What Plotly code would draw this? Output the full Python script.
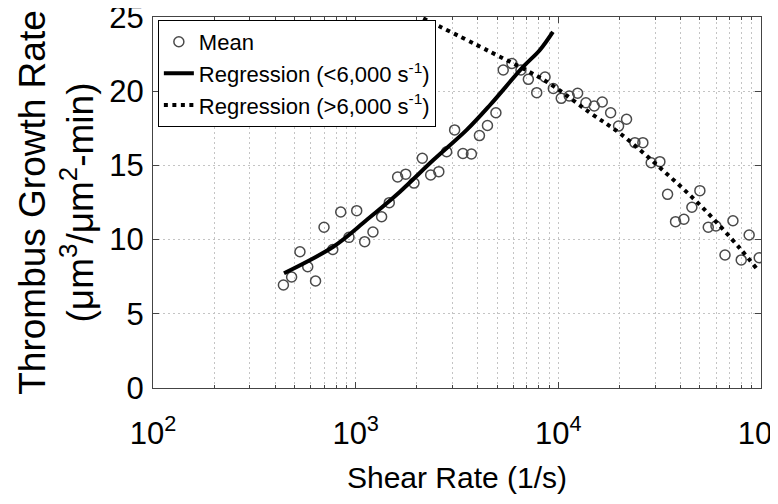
import plotly.graph_objects as go

# ---- data ----
shear_rate = [440, 483, 531, 580, 634, 698, 771, 844, 927, 1012,
              1108, 1217, 1343, 1465, 1611, 1766, 1940, 2132, 2345, 2572,
              2812, 3078, 3383, 3725, 4080, 4470, 4921, 5347, 5904, 6541,
              7112, 7824, 8597, 9446, 10336, 11316, 12450, 13681, 15035, 16469,
              18117, 19826, 21710, 23867, 26129, 28722, 31703, 34597, 37878, 41642,
              45600, 49937, 54918, 59939, 66435, 72698, 79882, 87426, 98000]
growth_rate = [6.94, 7.48, 9.18, 8.17, 7.21, 10.83, 9.33, 11.86, 10.15, 11.95,
               9.86, 10.51, 11.54, 12.49, 14.22, 14.41, 13.81, 15.48, 14.35, 14.58,
               15.92, 17.39, 15.80, 15.77, 17.01, 17.69, 18.55, 21.43, 21.87, 21.43,
               20.80, 19.90, 20.96, 20.18, 19.52, 19.68, 19.86, 19.22, 19.00, 19.27,
               18.55, 17.65, 18.11, 16.53, 16.53, 15.18, 15.25, 13.05, 11.21, 11.37,
               12.18, 13.30, 10.83, 10.92, 8.96, 11.27, 8.63, 10.31, 8.78]

reg_low_x = [443, 775, 1132, 1655, 2416, 3532, 4604, 6714, 8110, 9400]
reg_low_y = [7.73, 9.52, 11.32, 13.23, 15.36, 17.39, 19.07, 21.65, 22.78, 24.0]

reg_high_x = [2154, 4604, 8750, 14320, 20140, 32360, 50950, 78700, 95700]
reg_high_y = [24.91, 22.66, 20.64, 18.55, 17.16, 14.74, 12.22, 9.41, 8.0]

x_tick_vals = [100, 1000, 10000, 100000]
x_tick_text = ["10<sup>2</sup>", "10<sup>3</sup>", "10<sup>4</sup>", "10<sup>5</sup>"]
y_tick_vals = [0, 5, 10, 15, 20, 25]

FONT = "Liberation Sans, Arial, Helvetica, sans-serif"

minor_x = [m * 10 ** e for e in (2, 3, 4) for m in range(2, 10)]

fig = go.Figure()
fig.add_trace(go.Scatter(
    x=shear_rate, y=growth_rate, mode="markers", name="Mean",
    marker=dict(symbol="circle-open", size=10, color="#4a4a4a",
                line=dict(width=1.5, color="#4a4a4a")),
))
fig.add_trace(go.Scatter(
    x=reg_low_x, y=reg_low_y, mode="lines", name="Regression (<6,000 s<sup>-1</sup>)",
    line=dict(color="black", width=4, shape="spline"),
))
fig.add_trace(go.Scatter(
    x=reg_high_x, y=reg_high_y, mode="lines", name="Regression (>6,000 s<sup>-1</sup>)",
    line=dict(color="black", width=4, dash="4px,4.5px", shape="spline"),
))

grid = dict(showgrid=True, gridcolor="#c4c4c4", griddash="2px,3px", gridwidth=1)

fig.update_layout(
    width=770, height=496,
    margin=dict(l=145, r=17, t=9, b=116, autoexpand=False),
    paper_bgcolor="white", plot_bgcolor="white",
    font=dict(family=FONT, color="black"),
    showlegend=True,
    legend=dict(
        x=0.008, y=0.992, xanchor="left", yanchor="top",
        bgcolor="white", bordercolor="black", borderwidth=1,
        font=dict(family=FONT, size=22, color="black"),
        tracegroupgap=0, itemwidth=30,
    ),
    xaxis=dict(
        type="log", range=[2, 5],
        tickmode="array", tickvals=x_tick_vals, ticktext=x_tick_text,
        ticks="inside", ticklen=6, tickcolor="#444", tickwidth=1,
        showline=True, linecolor="#444", linewidth=1.2, mirror="ticks",
        tickfont=dict(family=FONT, size=31),
        ticklabelstandoff=18, ticklabeloverflow="allow",
        minor=dict(tickmode="array", tickvals=minor_x, ticks="inside", ticklen=3,
                   tickcolor="#444", **grid),
        title=dict(text="Shear Rate (1/s)", font=dict(family=FONT, size=30), standoff=16),
        zeroline=False, automargin=False, **grid,
    ),
    yaxis=dict(
        range=[0, 25], tickmode="array", tickvals=y_tick_vals,
        ticks="inside", ticklen=6, tickcolor="#444", tickwidth=1,
        showline=True, linecolor="#444", linewidth=1.2, mirror="ticks",
        tickfont=dict(family=FONT, size=31),
        ticklabelstandoff=2, ticklabeloverflow="allow",
        title=dict(text="Thrombus Growth Rate<br>(μm<sup>3</sup>/μm<sup>2</sup>-min)",
                   font=dict(family=FONT, size=37), standoff=4),
        zeroline=False, automargin=False, **grid,
    ),
)

fig.write_html("out.html")
